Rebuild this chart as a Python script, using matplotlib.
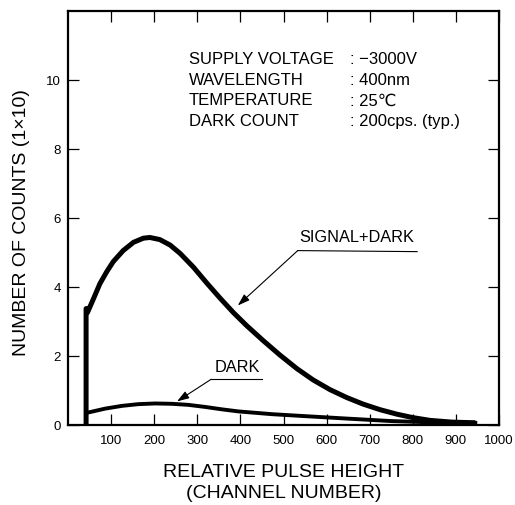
import matplotlib
matplotlib.use("Agg")
import matplotlib.pyplot as plt

plt.rcParams['font.family'] = ['Liberation Sans', 'DejaVu Sans']

# pulse height distribution
signal_x = [42, 42, 44, 45, 59, 74, 90, 105, 128, 152, 175, 190, 213, 237, 260, 291, 322, 353, 384,
            415, 453, 492, 531, 569, 608, 647, 685, 724, 763, 800, 840, 890, 945]
signal_y = [0, 3.38, 3.38, 3.26, 3.66, 4.10, 4.45, 4.74, 5.06, 5.30, 5.42, 5.44, 5.38, 5.22, 4.98, 4.58,
            4.12, 3.68, 3.26, 2.88, 2.45, 2.03, 1.64, 1.31, 1.03, 0.80, 0.61, 0.45, 0.32, 0.22, 0.14, 0.09, 0.07]

dark_x = [44, 86, 125, 163, 202, 241, 279, 318, 357, 395, 434, 473, 540, 650, 750, 850, 945]
dark_y = [0.36, 0.48, 0.56, 0.61, 0.63, 0.62, 0.59, 0.53, 0.46, 0.40, 0.36, 0.32, 0.27, 0.19, 0.12, 0.08, 0.07]

x_ticks = [100, 200, 300, 400, 500, 600, 700, 800, 900, 1000]
y_ticks = [0, 2, 4, 6, 8, 10]

info_keys = ['SUPPLY VOLTAGE', 'WAVELENGTH', 'TEMPERATURE', 'DARK COUNT']
info_vals = [': \u22123000V', ': 400nm', ': 25\u2103', ': 200cps. (typ.)']

fig = plt.figure(figsize=(5.15, 5.05), dpi=100)
ax = fig.add_axes([0.132, 0.158, 0.837, 0.820])

ax.plot(signal_x, signal_y, color='black', lw=3.6, solid_joinstyle='round', solid_capstyle='butt')
ax.plot(dark_x, dark_y, color='black', lw=2.8, solid_joinstyle='round')

ax.set_xlim(0, 1000)
ax.set_ylim(0, 12)
ax.set_xticks(x_ticks)
ax.set_yticks(y_ticks)
ax.tick_params(direction='in', length=8, width=0.9, labelsize=9.5,
               top=True, right=True, color='black')
ax.tick_params(axis='x', pad=7)
ax.tick_params(axis='y', pad=5)
for s in ax.spines.values():
    s.set_linewidth(1.6)

ax.set_ylabel('NUMBER OF COUNTS (1\u00d710)', fontsize=14)
ax.yaxis.set_label_coords(-0.088, 0.49)
ax.set_xlabel('RELATIVE PULSE HEIGHT\n(CHANNEL NUMBER)', fontsize=14, linespacing=1.3)
ax.xaxis.set_label_coords(0.5, -0.093)

# conditions block
for i, (k, v) in enumerate(zip(info_keys, info_vals)):
    yy = 10.61 - i * 0.607
    ax.text(281, yy, k, fontsize=12, va='center', ha='left')
    ax.text(654, yy, v, fontsize=12, va='center', ha='left')

# SIGNAL+DARK label with leader
ax.text(670, 5.22, 'SIGNAL+DARK', fontsize=11.8, ha='center', va='bottom')
ax.plot([533, 810], [5.06, 5.03], color='black', lw=0.8)
ax.annotate('', xy=(394, 3.47), xytext=(533, 5.06),
            arrowprops=dict(arrowstyle='-|>,head_length=0.6,head_width=0.2', color='black', lw=0.8,
                            mutation_scale=12, shrinkA=0, shrinkB=0))

# DARK label with leader
ax.text(392, 1.45, 'DARK', fontsize=11.8, ha='center', va='bottom')
ax.plot([332, 450], [1.33, 1.33], color='black', lw=0.8)
ax.annotate('', xy=(253, 0.69), xytext=(332, 1.33),
            arrowprops=dict(arrowstyle='-|>,head_length=0.6,head_width=0.2', color='black', lw=0.8,
                            mutation_scale=12, shrinkA=0, shrinkB=0))

fig.savefig('out.png', dpi=100)
